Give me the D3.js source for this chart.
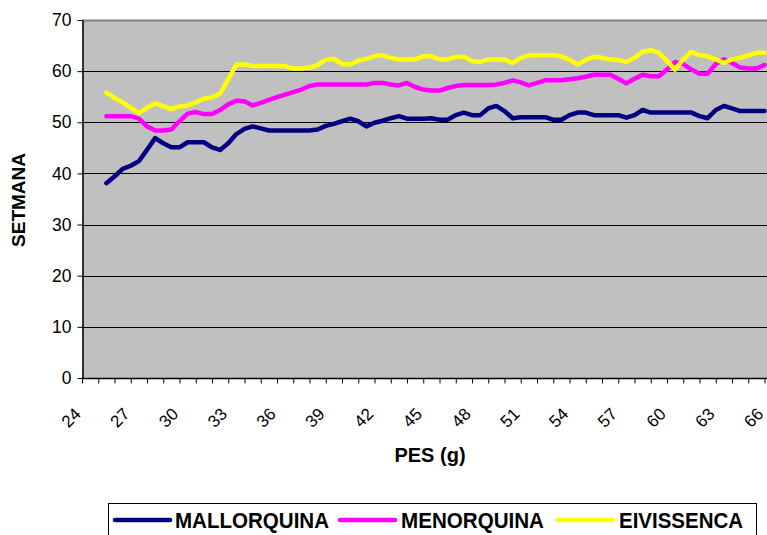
<!DOCTYPE html>
<html>
<head>
<meta charset="utf-8">
<script src="https://cdn.jsdelivr.net/npm/d3@7/dist/d3.min.js"></script>
<style>
  html, body { margin: 0; padding: 0; background: #ffffff; }
  svg { display: block; }
</style>
</head>
<body>
<script>
// ---- data ----
const pes = [25.5, 26, 26.5, 27, 27.5, 28, 28.5, 29, 29.5, 30,
             30.5, 31, 31.5, 32, 32.5, 33, 33.5, 34, 34.5, 35,
             35.5, 36, 36.5, 37, 37.5, 38, 38.5, 39, 39.5, 40,
             40.5, 41, 41.5, 42, 42.5, 43, 43.5, 44, 44.5, 45,
             45.5, 46, 46.5, 47, 47.5, 48, 48.5, 49, 49.5, 50,
             50.5, 51, 51.5, 52, 52.5, 53, 53.5, 54, 54.5, 55,
             55.5, 56, 56.5, 57, 57.5, 58, 58.5, 59, 59.5, 60,
             60.5, 61, 61.5, 62, 62.5, 63, 63.5, 64, 64.5, 65,
             65.5, 66];
const mallorquina = [38.1, 39.4, 40.9, 41.5, 42.4, 44.6, 46.9, 45.9, 45.1, 45.1,
                     46.1, 46.1, 46.1, 45.1, 44.6, 45.9, 47.7, 48.7, 49.2, 48.8,
                     48.4, 48.4, 48.4, 48.4, 48.4, 48.4, 48.6, 49.3, 49.7, 50.2,
                     50.7, 50.2, 49.2, 49.9, 50.3, 50.8, 51.2, 50.7, 50.7, 50.7,
                     50.8, 50.5, 50.5, 51.4, 51.9, 51.4, 51.4, 52.7, 53.2, 52.2,
                     50.8, 51.0, 51.0, 51.0, 51.0, 50.5, 50.5, 51.4, 51.9, 51.9,
                     51.4, 51.4, 51.4, 51.4, 50.9, 51.4, 52.4, 51.9, 51.9, 51.9,
                     51.9, 51.9, 51.9, 51.2, 50.8, 52.4, 53.2, 52.7, 52.2, 52.2,
                     52.2, 52.2];
const menorquina = [51.2, 51.2, 51.2, 51.2, 50.7, 49.2, 48.4, 48.4, 48.6, 50.2,
                    51.7, 52.0, 51.6, 51.6, 52.4, 53.5, 54.2, 54.1, 53.3, 53.8,
                    54.4, 54.9, 55.4, 55.9, 56.4, 57.1, 57.4, 57.4, 57.4, 57.4,
                    57.4, 57.4, 57.4, 57.7, 57.7, 57.4, 57.2, 57.7, 56.9, 56.4,
                    56.2, 56.2, 56.7, 57.1, 57.3, 57.3, 57.3, 57.3, 57.4, 57.7,
                    58.2, 57.8, 57.2, 57.7, 58.2, 58.2, 58.2, 58.4, 58.6, 58.9,
                    59.3, 59.3, 59.3, 58.5, 57.6, 58.5, 59.3, 59.0, 59.0, 60.3,
                    61.8, 61.4, 60.3, 59.5, 59.5, 61.4, 62.3, 61.6, 60.7, 60.5,
                    60.5, 61.2];
const eivissenca = [55.8, 54.8, 53.9, 52.8, 51.8, 52.8, 53.7, 53.1, 52.6, 53.1,
                    53.3, 53.9, 54.6, 54.9, 55.6, 58.4, 61.3, 61.3, 61.0, 61.0,
                    61.0, 61.0, 61.0, 60.5, 60.5, 60.7, 61.2, 62.2, 62.4, 61.4,
                    61.3, 62.0, 62.4, 62.9, 63.1, 62.6, 62.3, 62.3, 62.3, 62.9,
                    62.9, 62.3, 62.3, 62.8, 62.8, 62.0, 61.8, 62.3, 62.3, 62.3,
                    61.6, 62.6, 63.1, 63.1, 63.1, 63.1, 62.9, 62.2, 61.3, 62.2,
                    62.8, 62.6, 62.3, 62.2, 61.8, 62.6, 63.8, 64.1, 63.6, 62.0,
                    60.3, 62.3, 63.8, 63.1, 62.9, 62.3, 61.6, 62.3, 62.6, 63.1,
                    63.6, 63.6];
const seriesNames = ["MALLORQUINA", "MENORQUINA", "EIVISSENCA"];
const seriesColors = ["#000080", "#FF00FF", "#FFFF00"];
const xTickLabels = [24, 27, 30, 33, 36, 39, 42, 45, 48, 51, 54, 57, 60, 63, 66];
const xMinorTicks = [24,25,26,27,28,29,30,31,32,33,34,35,36,37,38,39,40,41,42,43,44,45,
                     46,47,48,49,50,51,52,53,54,55,56,57,58,59,60,61,62,63,64,65,66];
const yTicks = [0, 10, 20, 30, 40, 50, 60, 70];
const xTitle = "PES (g)";
const yTitle = "SETMANA";

// ---- layout ----
const W = 767, H = 535;
const plot = { left: 82, right: 767, top: 20, bottom: 378 };
const svg = d3.select("body").append("svg").attr("width", W).attr("height", H);

const x = d3.scaleLinear().domain([24, 66]).range([plot.left, 764.5]);
const y = d3.scaleLinear().domain([0, 70]).range([plot.bottom, plot.top]);

// plot background
svg.append("rect")
  .attr("x", plot.left).attr("y", plot.top)
  .attr("width", plot.right - plot.left).attr("height", plot.bottom - plot.top)
  .attr("fill", "#C0C0C0");
// top border
svg.append("line")
  .attr("x1", plot.left).attr("x2", plot.right)
  .attr("y1", plot.top + 0.5).attr("y2", plot.top + 0.5)
  .attr("stroke", "#808080").attr("stroke-width", 2);

// gridlines
svg.append("g").selectAll("line")
  .data(yTicks.filter(d => d > 0 && d < 70))
  .join("line")
  .attr("x1", plot.left).attr("x2", plot.right)
  .attr("y1", d => Math.round(y(d)) + 0.5).attr("y2", d => Math.round(y(d)) + 0.5)
  .attr("stroke", "#000").attr("stroke-width", 1);

// lines
const series = [mallorquina, menorquina, eivissenca];
const lineGen = (vals) => d3.line()
  .x((d, i) => x(pes[i]))
  .y(d => y(d))(vals);
svg.append("g").selectAll("path")
  .data(series)
  .join("path")
  .attr("d", d => lineGen(d))
  .attr("fill", "none")
  .attr("stroke", (d, i) => seriesColors[i])
  .attr("stroke-width", 4.5)
  .attr("stroke-linejoin", "round")
  .attr("stroke-linecap", "round");

// y axis
const yAxis = svg.append("g")
  .attr("transform", `translate(${plot.left + 0.5},0)`)
  .call(d3.axisLeft(y).tickValues(yTicks).tickSize(5).tickSizeOuter(0).tickPadding(6));
yAxis.select(".domain").attr("stroke", "#000").attr("stroke-width", 1.5);
yAxis.selectAll(".tick line").attr("stroke", "#000");
yAxis.selectAll("text")
  .attr("font-family", "Liberation Sans, Arial, sans-serif")
  .attr("font-size", 17.5).attr("fill", "#000");

// x axis minor ticks
const xAxis = svg.append("g")
  .attr("transform", `translate(0,${plot.bottom + 0.5})`)
  .call(d3.axisBottom(x).tickValues(xMinorTicks).tickSize(5).tickSizeOuter(0).tickFormat(""));
xAxis.select(".domain").attr("stroke", "#000").attr("stroke-width", 1.5)
  .attr("d", `M${plot.left},0H${plot.right}`);
xAxis.selectAll(".tick line").attr("stroke", "#000");

// x labels
svg.append("g").selectAll("text")
  .data(xTickLabels)
  .join("text")
  .attr("transform", d => `translate(${x(d)},${415}) rotate(-45)`)
  .attr("text-anchor", "end")
  .attr("font-family", "Liberation Sans, Arial, sans-serif")
  .attr("font-size", 17)
  .attr("fill", "#000")
  .text(d => d);

// axis titles
svg.append("text")
  .attr("x", 430).attr("y", 462)
  .attr("text-anchor", "middle")
  .attr("font-family", "Liberation Sans, Arial, sans-serif")
  .attr("font-weight", "bold").attr("font-size", 20)
  .text(xTitle);
svg.append("text")
  .attr("transform", `translate(25,200) rotate(-90)`)
  .attr("text-anchor", "middle")
  .attr("font-family", "Liberation Sans, Arial, sans-serif")
  .attr("font-weight", "bold").attr("font-size", 19)
  .text(yTitle);

// legend
svg.append("rect")
  .attr("x", 108.5).attr("y", 503.5).attr("width", 648).attr("height", 40)
  .attr("fill", "#fff").attr("stroke", "#000").attr("stroke-width", 1);
const legendItems = [
  { lx: 115, tx: 175 },
  { lx: 340, tx: 401 },
  { lx: 558, tx: 619 }
];
const lg = svg.append("g").selectAll("g")
  .data(seriesNames)
  .join("g");
lg.append("line")
  .attr("x1", (d, i) => legendItems[i].lx).attr("x2", (d, i) => legendItems[i].lx + 55)
  .attr("y1", 520).attr("y2", 520)
  .attr("stroke", (d, i) => seriesColors[i]).attr("stroke-width", 4.5)
  .attr("stroke-linecap", "round");
lg.append("text")
  .attr("x", (d, i) => legendItems[i].tx).attr("y", 528)
  .attr("font-family", "Liberation Sans, Arial, sans-serif")
  .attr("font-weight", "bold").attr("font-size", 21.5)
  .attr("textLength", (d, i) => [154, 143, 124][i])
  .attr("lengthAdjust", "spacingAndGlyphs")
  .text(d => d);
</script>
</body>
</html>
